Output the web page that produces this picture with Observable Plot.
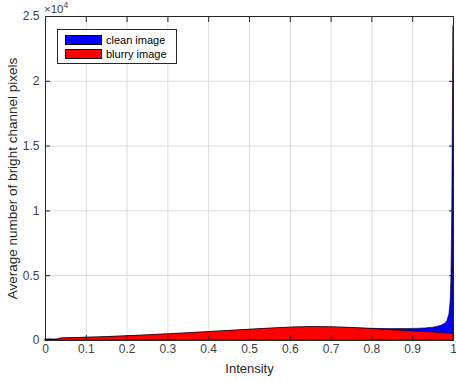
<!DOCTYPE html>
<html><head><meta charset="utf-8">
<script src="https://cdn.jsdelivr.net/npm/d3@7"></script>
<script src="https://cdn.jsdelivr.net/npm/@observablehq/plot@0.6"></script>
<style>
body{margin:0;background:#fff;font-family:"Liberation Sans",Arial,sans-serif;}
#wrap{position:relative;width:456px;height:381px;}
#exp{position:absolute;left:44px;top:0px;font-size:11.5px;color:#404040;}
#exp sup{font-size:8.5px;}
#legend{position:absolute;left:57px;top:29px;width:118px;height:33px;border:1px solid #262626;background:#fff;font-size:11px;color:#000;}
.row{position:absolute;left:7px;height:11px;display:flex;align-items:center;}
.sw{width:37px;height:10px;border:1px solid #000;box-sizing:border-box;margin-right:4px;}
</style></head>
<body><div id="wrap"><div id="chart"></div>
<div id="exp">×10<sup>4</sup></div>
<div id="legend">
<div class="row" style="top:4px"><div class="sw" style="background:#0000ff"></div>clean image</div>
<div class="row" style="top:18px"><div class="sw" style="background:#ff0000"></div>blurry image</div>
</div></div>
<script>
const intensity = [0, 0.01, 0.02, 0.03, 0.035, 0.04, 0.05, 0.1, 0.15, 0.2, 0.25, 0.3, 0.35, 0.4, 0.45, 0.5, 0.55, 0.6, 0.65, 0.7, 0.75, 0.8, 0.85, 0.9, 0.93, 0.95, 0.96, 0.97, 0.98, 0.985, 0.99, 0.993, 0.995, 0.997, 0.999, 1.0];
const clean = [80, 90, 80, 90, 140, 160, 170, 210, 260, 320, 390, 470, 550, 640, 730, 820, 900, 980, 1020, 1010, 960, 900, 880, 890, 930, 990, 1050, 1130, 1300, 1500, 2000, 3000, 5000, 10000, 20000, 24300];
const blurry = [0, 0, 10, 30, 130, 160, 170, 210, 260, 330, 400, 480, 560, 650, 740, 830, 920, 1000, 1040, 1030, 970, 880, 790, 700, 650, 610, 590, 570, 550, 540, 530, 520, 515, 510, 505, 500];
const xTicks = [0, 0.1, 0.2, 0.3, 0.4, 0.5, 0.6, 0.7, 0.8, 0.9, 1];
const yTicks = [0, 5000, 10000, 15000, 20000, 25000];
const yLabels = ["0", "0.5", "1", "1.5", "2", "2.5"];

const cleanData = intensity.map((x, i) => ({x, y: clean[i]}));
const blurryData = intensity.map((x, i) => ({x, y: blurry[i]}));
const fmtY = d => yLabels[yTicks.indexOf(d)];
const fmtX = d => String(d);
const axisCol = "#262626";
const none = () => "";

const chart = Plot.plot({
  width: 456, height: 381,
  marginLeft: 45, marginRight: 3, marginTop: 16, marginBottom: 41,
  style: {fontFamily: "'Liberation Sans', Arial, sans-serif", fontSize: "12px", color: axisCol, background: "#fff"},
  x: {domain: [0, 1]},
  y: {domain: [0, 25000]},
  marks: [
    Plot.gridX(xTicks, {stroke: "#dcdcdc", strokeOpacity: 1}),
    Plot.gridY(yTicks, {stroke: "#dcdcdc", strokeOpacity: 1}),
    Plot.areaY(cleanData, {x: "x", y: "y", fill: "#0000ff", stroke: "#000", strokeWidth: 0.6}),
    Plot.areaY(blurryData, {x: "x", y: "y", fill: "#ff0000", stroke: "#000", strokeWidth: 0.6}),
    Plot.axisX(xTicks, {tickSize: 0, tickPadding: 4, tickFormat: fmtX, fontSize: 12, fill: "#404040", label: null}),
    Plot.axisX({label: "Intensity", ticks: [], tickSize: 0, labelAnchor: "center", labelOffset: 32, fontSize: 13, fill: "#262626", labelArrow: "none"}),
    Plot.axisX(xTicks, {tickSize: -5, tickFormat: none, stroke: axisCol, label: null}),
    Plot.axisX(xTicks, {anchor: "top", tickSize: -5, tickFormat: none, stroke: axisCol, label: null}),
    Plot.axisY(yTicks, {tickSize: 0, tickPadding: 6, tickFormat: fmtY, fontSize: 12, fill: "#404040", label: null}),
    Plot.axisY({label: "Average number of bright channel pixels", ticks: [], tickSize: 0, labelAnchor: "center", labelOffset: 38, fontSize: 13.5, fill: "#262626", labelArrow: "none"}),
    Plot.axisY(yTicks, {tickSize: -5, tickFormat: none, stroke: axisCol, label: null}),
    Plot.axisY(yTicks, {anchor: "right", tickSize: -5, tickFormat: none, stroke: axisCol, label: null}),
    Plot.frame({stroke: axisCol, strokeWidth: 1})
  ]
});
document.getElementById("chart").appendChild(chart);
</script></body></html>
